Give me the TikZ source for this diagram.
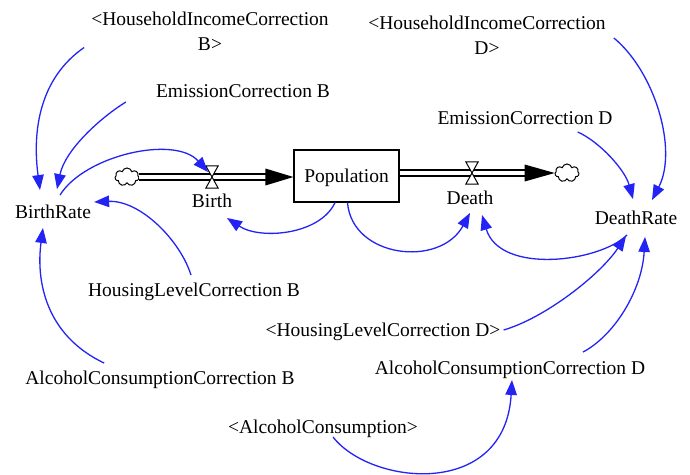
\documentclass[tikz,border=0pt]{standalone}
\usepackage{fontspec}
\setmainfont{Liberation Serif}
\usetikzlibrary{arrows.meta,shapes.symbols}
\definecolor{lnk}{RGB}{35,35,245}
\begin{document}
\begin{tikzpicture}[x=1pt,y=-1pt,
  every node/.style={font=\fontsize{19.5}{25}\selectfont, inner sep=0pt},
  lbl/.style={text height=13.5pt, text depth=0pt},
  lbltwo/.style={align=center, anchor=north},
  link/.style={draw=lnk, line width=1.3pt, -{Triangle[length=15pt,width=11.5pt]}},
  pipe/.style={draw=black, double=white, line width=1.3pt, double distance=4.5pt},
  cloudnode/.style={cloud, cloud puffs=7, draw, fill=white, line width=1pt, minimum width=24pt, minimum height=18pt},
  valve/.style={minimum width=12pt, minimum height=22pt},
  stock/.style={draw, line width=1.2pt, minimum width=105pt, minimum height=52pt, text height=13.5pt, text depth=0pt}]
\useasboundingbox (0,0) rectangle (690,474);

% nodes
\node[lbltwo] (hib) at (210,11.5) {<HouseholdIncomeCorrection\\B>};
\node[lbltwo] (hid) at (487,15.5) {<HouseholdIncomeCorrection\\D>};
\node[lbl] (ecb) at (243,91) {EmissionCorrection B};
\node[lbl] (ecd) at (525,118) {EmissionCorrection D};
\node[lbl] (br) at (53,212) {BirthRate};
\node[lbl] (dr) at (636,218) {DeathRate};
\node[stock] (pop) at (346.5,176) {Population};
\node[cloudnode] (cl) at (127,177) {};
\node[cloudnode] (cr) at (567,173) {};
\node[valve] (vb) at (212,177) {};
\node[valve] (vd) at (472,173) {};
\node[lbl] (birth) at (212,201) {Birth};
\node[lbl] (death) at (470,198) {Death};
\node[lbl] (hlb) at (194,290) {HousingLevelCorrection B};
\node[lbl] (hld) at (383,330) {<HousingLevelCorrection D>};
\node[lbl] (acb) at (160,378) {AlcoholConsumptionCorrection B};
\node[lbl] (acd) at (510,368) {AlcoholConsumptionCorrection D};
\node[lbl] (ac) at (323,427) {<AlcoholConsumption>};

% flows
\coordinate (pin) at (cl.east -| pop.west);
\draw[pipe] (cl.east) -- ([shift={(-26,0)}]pin);
\fill (pin) -- ++(-28,-8.5) -- ++(0,17) -- cycle;
\coordinate (pout) at (pop.east |- cr.west);
\coordinate (cin) at (cr.west);
\draw[pipe] (pout) -- ([shift={(-28,0)}]cin);
\fill (cin) -- ++(-30,-8.5) -- ++(0,17) -- cycle;
\filldraw[fill=white, line width=1pt] (vb.north west) -- (vb.north east) -- (vb.south west) -- (vb.south east) -- cycle;
\filldraw[fill=white, line width=1pt] (vd.north west) -- (vd.north east) -- (vd.south west) -- (vd.south east) -- cycle;

% links
\draw[link] ([shift={(-7,-3)}]hib.south west) .. controls (40,78) and (32,130) .. ([shift={(-13,-15)}]br.north);
\draw[link] ([shift={(-30,11)}]ecb.west) .. controls (100,118) and (65,150) .. ([shift={(4,-16)}]br.north);
\draw[link] ([shift={(7,-10)}]br.north) .. controls (85,155) and (175,135) .. ([shift={(-4,-5)}]vb.center);
\draw[link] ([shift={(-11.5,0)}]pop.south) .. controls (320,235) and (260,240) .. ([shift={(15,10)}]birth.south);
\draw[link] ([shift={(-3,-8)}]hlb.north) .. controls (180,240) and (140,200) .. ([shift={(3,-10)}]br.east);
\draw[link] ([shift={(79,-8)}]acb.north west) .. controls (45,335) and (36,280) .. ([shift={(-10,9)}]br.south);
\draw[link] ([shift={(1,0)}]pop.south) .. controls (352,258) and (440,268) .. ([shift={(0,8)}]death.south);
\draw[link] ([shift={(-9,10)}]dr.south) .. controls (600,262) and (500,275) .. ([shift={(12,10)}]death.south);
\draw[link] ([shift={(8,22.5)}]hid.north east) .. controls (655,72) and (678,150) .. ([shift={(16,-11)}]dr.north);
\draw[link] ([shift={(-35,7)}]ecd.south east) .. controls (600,142) and (625,170) .. ([shift={(-3,-12)}]dr.north);
\draw[link] ([shift={(3,0)}]hld.east) .. controls (545,318) and (600,275) .. ([shift={(-10,11)}]dr.south);
\draw[link] ([shift={(73,-9)}]acd.north) .. controls (615,335) and (642,290) .. ([shift={(9,12)}]dr.south);
\draw[link] ([shift={(10,3)}]ac.south) .. controls (370,485) and (505,500) .. ([shift={(2,5)}]acd.south);
\end{tikzpicture}
\end{document}
